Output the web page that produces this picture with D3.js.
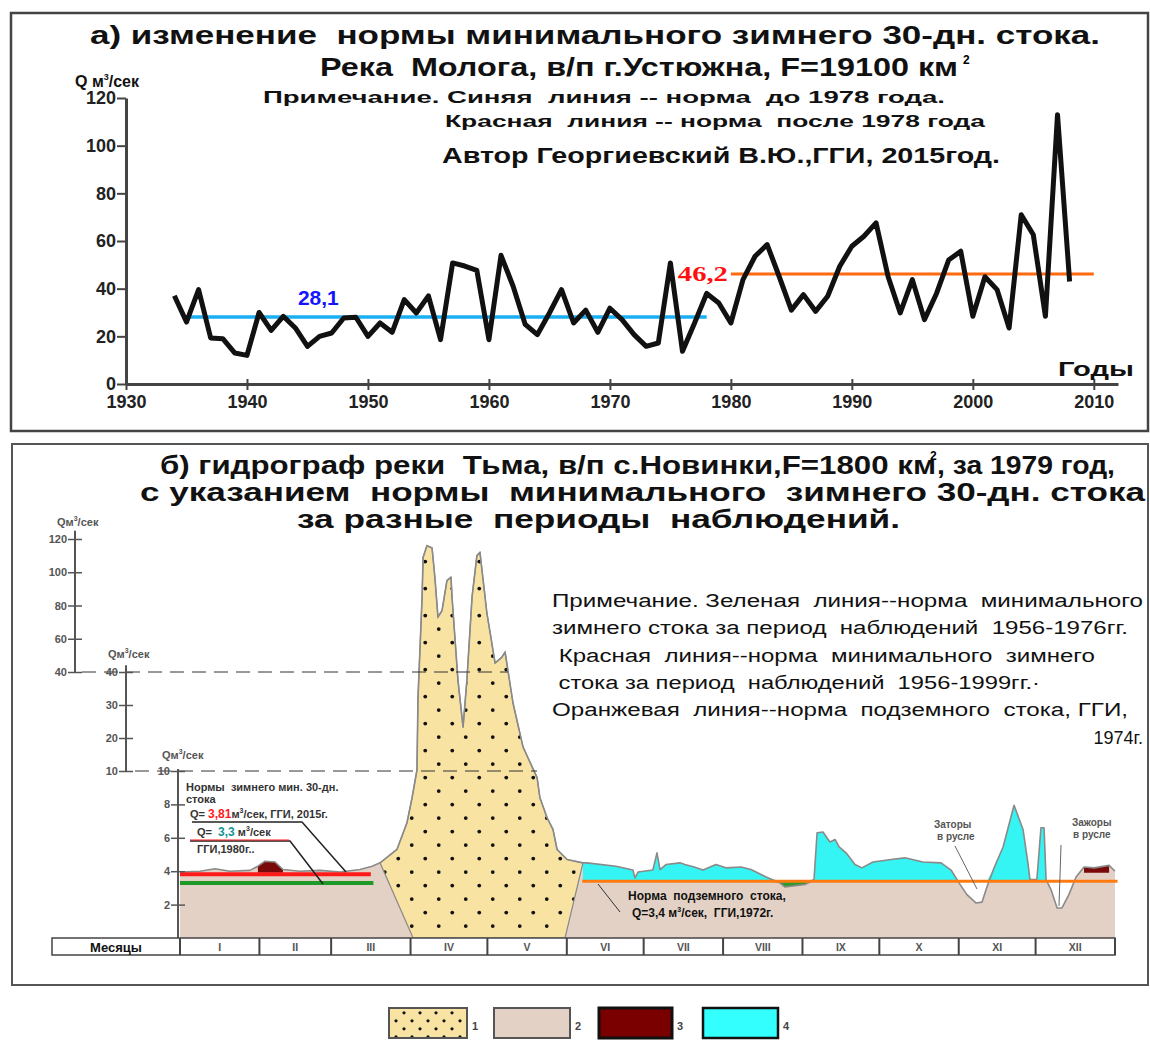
<!DOCTYPE html>
<html lang="ru">
<head>
<meta charset="utf-8">
<title>Норма минимального зимнего стока</title>
<script src="https://cdnjs.cloudflare.com/ajax/libs/d3/7.8.5/d3.min.js"></script>
<style>
  body { margin: 0; background: #fff; }
  svg { display: block; font-family: "Liberation Sans", Arial, sans-serif; }
  text { white-space: pre; }
</style>
</head>
<body>
<script>
// ===== а) р. Молога, минимальный зимний 30-дн. сток =====
const years = d3.range(1934, 2009);
const flows = [37, 26, 39.6, 19.3, 19, 13, 12, 30, 22.5, 28.4,
               23.5, 15.8, 20, 21.4, 27.7, 28, 20, 25.6, 21.7, 35.4,
               29.8, 37, 18.6, 50.8, 49.5, 47.7, 18.6, 54, 41, 25,
               20.7, 29.8, 39.6, 25.6, 31, 21.7, 31.8, 27, 20.7, 15.8,
               17.2, 50.8, 13.7, 25.6, 38, 34, 25.6, 43.8, 53.6, 58.5,
               45, 31, 37.5, 30.5, 36.8, 49.4, 57.8, 62, 67.6, 45,
               29.8, 43.8, 27, 38, 52, 55.7, 28.4, 45, 39.6, 23.5,
               71, 62.6, 28.4, 113, 43];
const normBefore = 28.1;          // норма до 1978 г.
const normBeforeYears = [1935, 1978];
const normAfter = 46.2;           // норма после 1978 г.
const normAfterYears = [1980, 2010];
const topYTicks = [0, 20, 40, 60, 80, 100, 120];
const topXTicks = [1930, 1940, 1950, 1960, 1970, 1980, 1990, 2000, 2010];

// ===== б) гидрограф р. Тьма, 1979 г. (сутки от 1 января, Q м3/с) =====
const hydroDays = [0, 7.8, 13.7, 19.5, 27.3, 30.4, 33.2, 37.1, 40.2, 46.8, 54.7, 62.5, 70.3, 75.0, 78.1,
  84.7, 88.6, 90.6, 92.5, 92.9, 94.5, 94.9, 96.4, 98.4, 99.5, 100.7, 102.3, 104.2, 105.8, 106.2, 108.5,
  110.5, 112.0, 114.0, 115.9, 117.1, 119.8, 123.0, 125.7, 126.9, 128.0, 130.0, 133.9, 139.4, 140.5,
  143.3, 145.6, 147.2, 151.1, 157.3,
  158.9, 170.2, 176.8, 177.6, 178.8, 184.6, 186.2, 187.4, 189.7, 195.2, 197.1, 200.7, 204.2, 209.2,
  213.1, 219.0, 222.9, 228.8, 234.2, 236.2, 244.0, 247.5, 248.7, 251.0, 253.7, 255.7, 257.3, 260.0,
  263.5, 266.2, 270.5, 277.6, 283.0, 290.0, 297.1, 301.0, 304.1, 307.2, 310.7, 313.1, 315.0, 317.8,
  321.3, 325.6, 329.1, 331.0, 331.8, 334.5, 336.1, 337.3, 338.1, 340.0, 342.4, 344.3, 347.0, 349.8,
  352.9, 356.8, 362.7, 365];
const hydroQ = [3.95, 4.0, 4.15, 4.0, 4.05, 4.3, 4.6, 4.55, 4.1, 4.0, 4.05, 3.95, 4.1, 4.3, 4.5,
  5.3, 6.9, 8.4, 10.3, 32, 85, 109, 116, 114.6, 97, 73, 77, 95, 97, 85, 37.6,
  23.3, 37.6, 85, 110, 112, 75.5, 45.4, 49, 52, 41.2, 30.6, 17.3, 9.6, 8.4,
  7.2, 6.5, 5.3, 4.7, 4.5,
  4.5, 4.3, 4.07, 3.6, 3.95, 4.07, 5.1, 4.1, 4.4, 4.5, 4.4, 4.25, 4.07, 4.4,
  4.2, 4.25, 4.1, 3.65, 3.3, 3.05, 3.2, 3.5, 6.3, 6.35, 5.75, 5.9, 5.45, 5.1,
  4.4, 4.2, 4.55, 4.7, 4.8, 4.55, 4.5, 4.07, 3.3, 2.6, 2.1, 2.15, 3.05, 4.2,
  5.45, 7.95, 6.5, 4.5, 3.5, 3.5, 6.6, 6.6, 3.5, 2.9, 1.8, 1.8, 2.6, 3.65,
  4.25, 4.2, 4.35, 4.0];
const floodRange = [78.1, 157.3];        // половодье (1)
const floodBase = [91, 150.3];           // основание половодья
const rainRanges = [[157.3, 304.1], [315, 331.8], [334.5, 338.1]]; // паводки (4)
const thawRanges = [[29, 41], [352, 363]];                          // (3)
const lowRanges = [[228.8, 247.5]];
const normRed = 3.81, normGreen = 3.3, normGround = 3.4;
const normRedDays = [0, 74.5], normGreenDays = [0, 75.5], normGroundDays = [157, 366];
const monthNames = ["I", "II", "III", "IV", "V", "VI", "VII", "VIII", "IX", "X", "XI", "XII"];
const monthLengths = [31, 28, 31, 30, 31, 30, 31, 31, 30, 31, 30, 31];
const axis1Ticks = [40, 60, 80, 100, 120];
const axis2Ticks = [10, 20, 30, 40];
const axis3Ticks = [2, 4, 6, 8, 10];

const width = 1150, height = 1041;
const svg = d3.select("body").append("svg")
    .attr("width", width)
    .attr("height", height);

const defs = svg.append("defs");
function dotPattern(id, size, r) {
    const p = defs.append("pattern").attr("id", id)
        .attr("width", size).attr("height", size)
        .attr("patternUnits", "userSpaceOnUse");
    p.append("rect").attr("width", size).attr("height", size).attr("fill", "#f9e3a2");
    p.append("circle").attr("cx", size * 0.25).attr("cy", size * 0.3).attr("r", r).attr("fill", "#111");
    p.append("circle").attr("cx", size * 0.75).attr("cy", size * 0.8).attr("r", r).attr("fill", "#111");
}
dotPattern("dots", 27, 1.9);
dotPattern("dotsSmall", 16, 1.6);

// рамки
svg.append("rect").attr("x", 11).attr("y", 13).attr("width", 1137).attr("height", 418)
    .attr("fill", "none").attr("stroke", "#444").attr("stroke-width", 2.5);
svg.append("rect").attr("x", 12).attr("y", 444).attr("width", 1136).attr("height", 541)
    .attr("fill", "none").attr("stroke", "#555").attr("stroke-width", 2);

function label(x, y, str, size, opts = {}) {
    const t = svg.append("text")
        .attr("x", x).attr("y", y)
        .attr("font-size", size)
        .attr("font-weight", opts.weight || "bold")
        .attr("fill", opts.fill || "#111")
        .attr("text-anchor", opts.anchor || "start")
        .text(str);
    if (opts.len) t.attr("textLength", opts.len).attr("lengthAdjust", "spacingAndGlyphs");
    if (opts.family) t.attr("font-family", opts.family);
    return t;
}

// ---------- а) заголовки ----------
label(90, 44, "а) изменение  нормы минимального зимнего 30-дн. стока.", 25, { len: 1010 });
label(320, 76, "Река  Молога, в/п г.Устюжна, F=19100 км", 25, { len: 638 });
svg.append("text").attr("x", 963).attr("y", 64).attr("font-size", 12).attr("font-weight", "bold").text("2");
const qt = label(75, 87, "Q м", 16);
qt.append("tspan").attr("font-size", 9).attr("dy", -7).text("3");
qt.append("tspan").attr("dy", 7).text("/сек");
label(263, 103, "Примечание. Синяя  линия -- норма  до 1978 года.", 17, { len: 682 });
label(445, 127, "Красная  линия -- норма  после 1978 года", 17, { len: 540 });
label(442, 163, "Автор Георгиевский В.Ю.,ГГИ, 2015год.", 22, { len: 558 });

// ---------- а) график ----------
const xTop = d3.scaleLinear().domain([1930, 2012]).range([126, 1118]);
const yTop = d3.scaleLinear().domain([0, 120]).range([384, 98]);

const xAxisTop = svg.append("g")
    .attr("transform", `translate(0,${yTop(0)})`)
    .call(d3.axisBottom(xTop).tickValues(topXTicks).tickFormat(d3.format("d")).tickSize(6).tickSizeOuter(0));
xAxisTop.select(".domain").attr("stroke", "#444").attr("stroke-width", 3);
xAxisTop.selectAll(".tick line").attr("stroke", "#444").attr("stroke-width", 2).attr("y1", -5);
xAxisTop.selectAll(".tick text").attr("font-size", 18).attr("font-weight", "bold")
    .attr("font-family", "Liberation Sans, Arial, sans-serif").attr("fill", "#222").attr("dy", "0.85em");

const yAxisTop = svg.append("g")
    .attr("transform", `translate(${xTop(1930)},0)`)
    .call(d3.axisLeft(yTop).tickValues(topYTicks).tickSize(9).tickSizeOuter(0));
yAxisTop.select(".domain").attr("stroke", "#444").attr("stroke-width", 3);
yAxisTop.selectAll(".tick line").attr("stroke", "#444").attr("stroke-width", 2);
yAxisTop.selectAll(".tick text").attr("font-size", 18).attr("font-weight", "bold")
    .attr("font-family", "Liberation Sans, Arial, sans-serif").attr("fill", "#222").attr("x", -10);

label(1058, 376, "Годы", 21, { len: 76 });

// нормы
svg.append("line")
    .attr("x1", xTop(normBeforeYears[0])).attr("x2", xTop(normBeforeYears[1]))
    .attr("y1", yTop(normBefore)).attr("y2", yTop(normBefore))
    .attr("stroke", "#1aaef2").attr("stroke-width", 3.5);
svg.append("line")
    .attr("x1", xTop(normAfterYears[0])).attr("x2", xTop(normAfterYears[1]))
    .attr("y1", yTop(normAfter)).attr("y2", yTop(normAfter))
    .attr("stroke", "#ff6a10").attr("stroke-width", 3);

// ряд стока
svg.append("path")
    .datum(years.map((y, i) => [y, flows[i]]))
    .attr("fill", "none")
    .attr("stroke", "#111")
    .attr("stroke-width", 5)
    .attr("stroke-linejoin", "round")
    .attr("d", d3.line().x(d => xTop(d[0])).y(d => yTop(d[1])));

label(xTop(1945.9), yTop(normBefore) - 12, "28,1", 21, { fill: "#1414ff", anchor: "middle" });
label(xTop(normAfterYears[0]) - 3, yTop(normAfter) + 7, "46,2", 22,
    { fill: "#ff1010", anchor: "end", family: "Liberation Serif, serif", len: 50 });

// ---------- б) заголовки ----------
label(160, 474, "б) гидрограф реки  Тьма, в/п с.Новинки,F=1800 км", 25, { len: 776 });
svg.append("text").attr("x", 930).attr("y", 460).attr("font-size", 12).attr("font-weight", "bold").text("2");
label(937, 474, ", за 1979 год,", 25, { len: 178 });
label(140, 501, "с указанием  нормы  минимального  зимнего 30-дн. стока", 25, { len: 1005 });
label(297, 528, "за разные  периоды  наблюдений.", 25, { len: 603 });

const notes = [
    "Примечание. Зеленая  линия--норма  минимального",
    "зимнего стока за период  наблюдений  1956-1976гг.",
    " Красная  линия--норма  минимального  зимнего",
    " стока за период  наблюдений  1956-1999гг.·",
    "Оранжевая  линия--норма  подземного  стока, ГГИ,"
];
const noteLens = [591, 576, 543, 488, 576];
notes.forEach((s, i) => label(552, 607 + i * 27.3, s, 18, { weight: "normal", len: noteLens[i] }));
label(1143, 744, "1974г.", 18, { weight: "normal", anchor: "end" });

// ---------- б) график ----------
const xB = d3.scaleLinear().domain([0, 365]).range([180, 1115]);
// ломаная шкала: 0-10, 10-40, 40-120
const yB = d3.scaleLinear().domain([0, 10, 40, 120]).range([938, 771, 672, 539]);

const hydro = hydroDays.map((d, i) => [d, hydroQ[i]]);
const inRange = r => hydro.filter(p => p[0] >= r[0] && p[0] <= r[1]);

// подземный сток (2)
svg.append("path").datum(hydro)
    .attr("fill", "#e4d1c5")
    .attr("d", d3.area().x(d => xB(d[0])).y0(yB(0)).y1(d => yB(d[1])));

// паводки (4)
rainRanges.forEach(r => {
    svg.append("path").datum(inRange(r))
        .attr("fill", "#35f4f4")
        .attr("d", d3.area().x(d => xB(d[0])).y0(yB(normGround)).y1(d => yB(Math.max(d[1], normGround))));
});

// ниже нормы
lowRanges.forEach(r => {
    svg.append("path").datum(inRange(r))
        .attr("fill", "#2f9b2f")
        .attr("d", d3.area().x(d => xB(d[0])).y0(yB(normGround)).y1(d => yB(Math.min(d[1], normGround))));
});

// оттепели (3)
thawRanges.forEach(r => {
    svg.append("path").datum(inRange(r))
        .attr("fill", "#7a0a0a")
        .attr("d", d3.area().x(d => xB(d[0])).y0(yB(3.9)).y1(d => yB(Math.max(d[1], 3.9))));
});

// половодье (1)
const floodPts = inRange(floodRange).concat([[floodBase[1], 0], [floodBase[0], 0]]);
svg.append("path").datum(floodPts)
    .attr("fill", "url(#dots)")
    .attr("stroke", "#888").attr("stroke-width", 1.2)
    .attr("d", d3.line().x(d => xB(d[0])).y(d => yB(d[1])).curve(d3.curveLinearClosed));

// контур гидрографа
svg.append("path").datum(hydro)
    .attr("fill", "none").attr("stroke", "#8a8a8a").attr("stroke-width", 1.6)
    .attr("stroke-linejoin", "round")
    .attr("d", d3.line().x(d => xB(d[0])).y(d => yB(d[1])));

// нормы зимнего стока
svg.append("line")
    .attr("x1", xB(normGreenDays[0])).attr("x2", xB(normGreenDays[1]))
    .attr("y1", yB(normGreen)).attr("y2", yB(normGreen))
    .attr("stroke", "#1f9a28").attr("stroke-width", 4);
svg.append("line")
    .attr("x1", xB(normRedDays[0])).attr("x2", xB(normRedDays[1]))
    .attr("y1", yB(normRed)).attr("y2", yB(normRed))
    .attr("stroke", "#ff1a1a").attr("stroke-width", 4);
svg.append("line")
    .attr("x1", xB(normGroundDays[0])).attr("x2", xB(normGroundDays[1]))
    .attr("y1", yB(normGround)).attr("y2", yB(normGround))
    .attr("stroke", "#ff7a10").attr("stroke-width", 3);

// штриховые линии 40 и 10
svg.append("line").attr("x1", 82).attr("x2", xB(128)).attr("y1", yB(40)).attr("y2", yB(40))
    .attr("stroke", "#333").attr("stroke-width", 1).attr("stroke-dasharray", "14,8");
svg.append("line").attr("x1", 135).attr("x2", xB(139.4)).attr("y1", yB(10)).attr("y2", yB(10))
    .attr("stroke", "#333").attr("stroke-width", 1).attr("stroke-dasharray", "14,8");

// три оси Q
function qAxis(x, ticks, top, bottom, titleX, titleY) {
    const g = svg.append("g").attr("transform", `translate(${x},0)`)
        .call(d3.axisLeft(yB).tickValues(ticks).tickSize(7).tickSizeOuter(0));
    g.select(".domain").remove();
    g.append("line").attr("y1", yB(top)).attr("y2", yB(bottom))
        .attr("stroke", "#555").attr("stroke-width", 2);
    g.selectAll(".tick line").attr("stroke", "#555").attr("stroke-width", 1.5).attr("x2", 7).attr("x1", -7);
    g.selectAll(".tick text").attr("font-size", 11).attr("font-weight", "bold")
        .attr("font-family", "Liberation Sans, Arial, sans-serif").attr("fill", "#555").attr("x", -8);
    const t = svg.append("text").attr("x", titleX).attr("y", titleY)
        .attr("font-size", 11).attr("font-weight", "bold").attr("fill", "#555").text("Qм");
    t.append("tspan").attr("font-size", 7).attr("dy", -5).text("3");
    t.append("tspan").attr("dy", 5).text("/сек");
}
qAxis(75, axis1Ticks, 40, 125, 57, 526);
qAxis(126, axis2Ticks, 10, 44, 108, 658);
qAxis(178, axis3Ticks, 0, 10.6, 162, 759);

// таблица месяцев
const cum = [0];
monthLengths.forEach(m => cum.push(cum[cum.length - 1] + m));
svg.append("rect").attr("x", 52).attr("y", yB(0)).attr("width", xB(365) - 52).attr("height", 17)
    .attr("fill", "#fff").attr("stroke", "#444").attr("stroke-width", 1.5);
svg.selectAll(".mline").data(cum).enter().append("line")
    .attr("x1", d => xB(d)).attr("x2", d => xB(d))
    .attr("y1", yB(0)).attr("y2", yB(0) + 17)
    .attr("stroke", "#444").attr("stroke-width", 2);
svg.selectAll(".mname").data(monthNames).enter().append("text")
    .attr("x", (d, i) => xB((cum[i] + cum[i + 1]) / 2))
    .attr("y", yB(0) + 13)
    .attr("text-anchor", "middle").attr("font-size", 10.5).attr("font-weight", "bold").attr("fill", "#555")
    .text(d => d);
label(116, yB(0) + 14, "Месяцы", 13, { anchor: "middle" });

// подписи норм слева
label(186, 791, "Нормы  зимнего мин. 30-дн.", 11, { fill: "#333" });
label(186, 803, "стока", 11, { fill: "#333" });
const q1 = label(190, 818, "Q= ", 11, { fill: "#333" });
q1.append("tspan").attr("fill", "#ff1a1a").attr("font-size", 12).text("3,81");
q1.append("tspan").text("м");
q1.append("tspan").attr("font-size", 7).attr("dy", -5).text("3");
q1.append("tspan").attr("dy", 5).text("/сек, ГГИ, 2015г.");
svg.append("polyline").attr("points", "192,822 302,822 346,872")
    .attr("fill", "none").attr("stroke", "#222").attr("stroke-width", 1.5);
const q2 = label(197, 836, "Q=  ", 11, { fill: "#333" });
q2.append("tspan").attr("fill", "#129494").attr("font-size", 12).text("3,3");
q2.append("tspan").text(" м");
q2.append("tspan").attr("font-size", 7).attr("dy", -5).text("3");
q2.append("tspan").attr("dy", 5).text("/сек");
svg.append("polyline").attr("points", "190,841 290,841 323,884")
    .attr("fill", "none").attr("stroke", "#222").attr("stroke-width", 1.5);
svg.append("line").attr("x1", 190).attr("x2", 289).attr("y1", 840).attr("y2", 840)
    .attr("stroke", "#ff1a1a").attr("stroke-width", 1);
label(197, 853, "ГГИ,1980г..", 11, { fill: "#333" });

// подземный сток
label(628, 900, "Норма  подземного  стока,", 12);
const q3 = label(632, 917, "Q=3,4 м", 12);
q3.append("tspan").attr("font-size", 7).attr("dy", -5).text("3");
q3.append("tspan").attr("dy", 5).text("/сек,  ГГИ,1972г.");
svg.append("line").attr("x1", 598).attr("y1", 884).attr("x2", 620).attr("y2", 912)
    .attr("stroke", "#333").attr("stroke-width", 1);

// заторы / зажоры
label(934, 828, "Заторы", 10, { fill: "#555" });
label(937, 840, "в русле", 10, { fill: "#555" });
svg.append("line").attr("x1", 955).attr("y1", 846).attr("x2", 977).attr("y2", 889)
    .attr("stroke", "#666").attr("stroke-width", 1);
label(1072, 826, "Зажоры", 10, { fill: "#555" });
label(1073, 838, "в русле", 10, { fill: "#555" });
svg.append("line").attr("x1", 1061).attr("y1", 845).attr("x2", 1059).attr("y2", 906)
    .attr("stroke", "#666").attr("stroke-width", 1);

// ---------- легенда ----------
const legend = [
    { fill: "url(#dotsSmall)", stroke: "#555", sw: 2, x: 389, w: 78 },
    { fill: "#e4d1c5", stroke: "#555", sw: 2, x: 494, w: 76 },
    { fill: "#7a0000", stroke: "#111", sw: 3, x: 599, w: 73 },
    { fill: "#33ffff", stroke: "#111", sw: 2.5, x: 703, w: 75 }
];
legend.forEach((d, i) => {
    svg.append("rect").attr("x", d.x).attr("y", 1008).attr("width", d.w).attr("height", 30)
        .attr("fill", d.fill).attr("stroke", d.stroke).attr("stroke-width", d.sw);
    label(d.x + d.w + 5, 1030, String(i + 1), 11, { fill: "#444" });
});
</script>
</body>
</html>
